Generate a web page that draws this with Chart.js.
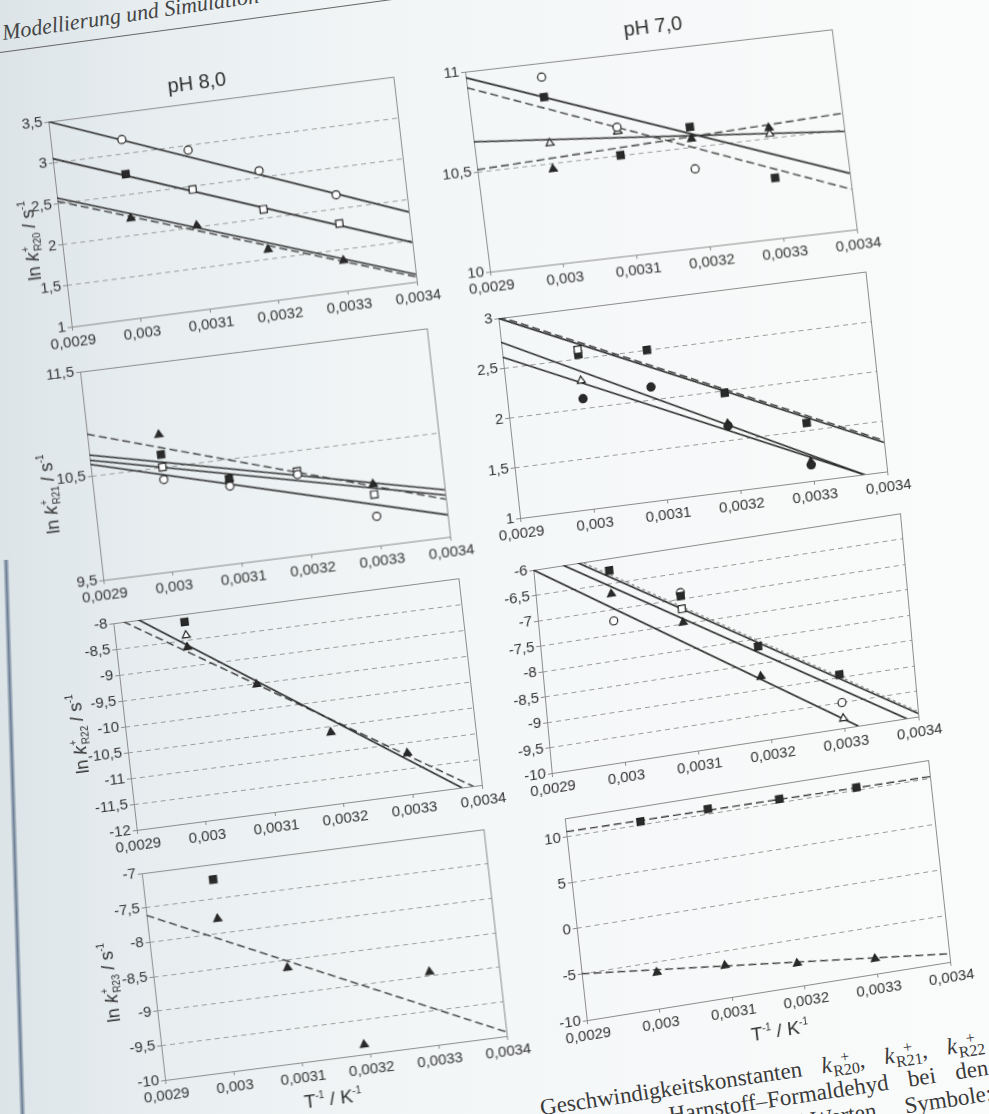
<!DOCTYPE html>
<html lang="de">
<head>
<meta charset="utf-8">
<title>ln k gegen 1/T – pH 8,0 und pH 7,0</title>
<script src="https://cdn.jsdelivr.net/npm/chart.js@4.4.0/dist/chart.umd.min.js"></script>
<style>
  html, body { margin: 0; padding: 0; }
  body {
    width: 989px; height: 1114px; overflow: hidden; position: relative;
    background: linear-gradient(90deg, #dce4e8 0%, #e8eef0 16%, #f3f6f7 42%, #fafbfb 100%);
    font-family: "Liberation Sans", Arial, sans-serif; color: #333;
  }
  .plot { position: absolute; left: 0; top: 0; transform-origin: 0 0; }
  .plot canvas { display: block; }
  #header {
    position: absolute; left: 3px; top: 22px; white-space: nowrap;
    font: italic 22px/22px "Liberation Serif", "DejaVu Serif", serif; color: #444;
    transform-origin: 0 17px; transform: rotate(-8.3deg);
  }
  #rule {
    position: absolute; left: 0; top: 52px; width: 460px; height: 1.4px; background: #666;
    transform-origin: 0 0; transform: rotate(-7.7deg);
  }
  #edge {
    position: absolute; left: 3px; top: 560px; width: 6px; height: 580px;
    background: linear-gradient(90deg, rgba(120,140,160,0.1), rgba(70,92,120,0.75), rgba(140,160,175,0.15));
    transform-origin: 0 0; transform: rotate(-1.7deg);
  }
  #caption {
    position: absolute; left: 335px; top: 1029px; width: 650px; text-align: right;
    font: 23px/26px "Liberation Serif", "DejaVu Serif", serif; color: #3a3a3a; word-spacing: 14px;
    transform-origin: 100% 18px; transform: rotate(-8.5deg); white-space: nowrap;
  }
  .ss { display: inline-flex; flex-direction: column; font-size: 16px; line-height: 13px;
        vertical-align: 8px; margin-left: 1px; text-align: center; word-spacing: 0; }
</style>
</head>
<body>
<div id="edge"></div>
<div id="header">Modellierung und Simulation</div>
<div id="rule"></div>
<div id="caption">
  <div>Geschwindigkeitskonstanten <i>k</i><span class="ss"><span>+</span><span>R20</span></span>, <i>k</i><span class="ss"><span>+</span><span>R21</span></span>, <i>k</i><span class="ss"><span>+</span><span>R22</span></span></div>
  <div>Harnstoff–Formaldehyd bei den</div>
  <div>pH-Werten.&emsp;Symbole:</div>
</div>
<script>
// x-Achse: T^-1 / K^-1, Messpunkte bei 60, 50, 40 und 30 °C
const xTicks = [0.0029, 0.003, 0.0031, 0.0032, 0.0033, 0.0034];
const tInv = [0.003002, 0.003095, 0.003193, 0.003299];
const fitX = [0.0029, 0.0034];

// pH 8,0 - ln k R20
const ph8R20Ticks = [1, 1.5, 2, 2.5, 3, 3.5];
const ph8R20Circle = [3.17, 2.94, 2.58, 2.17];
const ph8R20SquareFilled = [2.75, null, null, null];
const ph8R20Square = [null, 2.46, 2.11, 1.82];
const ph8R20TriangleFilled = [2.21, 2.02, 1.62, 1.37];
const ph8R20FitA = [3.5, 1.85];
const ph8R20FitB = [3.05, 1.48];
const ph8R20FitC = [2.57, 1.09];
const ph8R20FitD = [2.53, 1.06];

// pH 7,0 - ln k R20
const ph7R20Ticks = [10, 10.5, 11];
const ph7R20Circle = [10.93, 10.64, 10.39, null];
const ph7R20SquareFilled = [10.83, 10.50, 10.60, 10.30];
const ph7R20Triangle = [10.60, 10.62, null, 10.52];
const ph7R20TriangleFilled = [10.47, 10.62, 10.54, 10.55];
const ph7R20FitA = [10.97, 10.28];
const ph7R20FitB = [10.92, 10.20];
const ph7R20FitC = [10.65, 10.49];
const ph7R20FitD = [10.51, 10.58];

// pH 8,0 - ln k R21
const ph8R21Ticks = [9.5, 10.5, 11.5];
const ph8R21TriangleFilled = [10.81, 10.31, 10.28, 10.09];
const ph8R21SquareFilled = [10.62, 10.31, null, null];
const ph8R21Square = [10.50, null, 10.30, 9.99];
const ph8R21Circle = [10.38, 10.24, 10.27, 9.78];
const ph8R21FitA = [10.90, 9.86];
const ph8R21FitB = [10.70, 9.95];
const ph8R21FitC = [10.65, 9.90];
const ph8R21FitD = [10.61, 9.71];

// pH 7,0 - ln k R21
const ph7R21Ticks = [1, 1.5, 2, 2.5, 3];
const ph7R21Square = [2.59, null, null, null];
const ph7R21SquareFilled = [2.54, 2.50, 1.98, 1.58];
const ph7R21Triangle = [2.28, null, null, null];
const ph7R21CircleFilled = [2.10, 2.13, 1.65, 1.16];
const ph7R21TriangleFilled = [null, null, 1.67, 1.19];
const ph7R21FitA = [3.0, 1.29];
const ph7R21FitB = [3.02, 1.31];
const ph7R21FitC = [2.76, 0.88];
const ph7R21FitD = [2.61, 0.89];

// pH 8,0 - ln k R22
const ph8R22Ticks = [-12, -11.5, -11, -10.5, -10, -9.5, -9, -8.5, -8];
const ph8R22SquareFilled = [-8.15, null, null, null];
const ph8R22Triangle = [-8.41, null, null, null];
const ph8R22TriangleFilled = [-8.64, -9.52, -10.62, -11.21];
const ph8R22FitA = [-7.66, -12.27];
const ph8R22FitB = [-7.87, -12.11];

// pH 7,0 - ln k R22
const ph7R22Ticks = [-10, -9.5, -9, -8.5, -8, -7.5, -7, -6.5, -6];
const ph7R22SquareFilled = [-6.24, -6.95, -8.16, -8.95];
const ph7R22TriangleFilled = [-6.70, -7.47, -8.75, null];
const ph7R22Circle = [-7.23, -6.88, null, -9.50];
const ph7R22Square = [null, -7.20, null, null];
const ph7R22Triangle = [null, null, null, -9.81];
const ph7R22FitA = [-5.45, -9.94];
const ph7R22FitB = [-5.40, -9.90];
const ph7R22FitC = [-5.63, -10.15];
const ph7R22FitD = [-6.0, -10.79];

// pH 8,0 - ln k R23
const ph8R23Ticks = [-10, -9.5, -9, -8.5, -8, -7.5, -7];
const ph8R23SquareFilled = [-7.22, null, null, null];
const ph8R23TriangleFilled = [-7.79, -8.62, -9.86, -8.94];
const ph8R23Fit = [-7.61, -9.94];

// pH 7,0 - ln k R23
const ph7R23Ticks = [-10, -5, 0, 5, 10];
const ph7R23Max = 12;
const ph7R23SquareFilled = [10.35, 10.55, 10.4, 10.3];
const ph7R23TriangleFilled = [-6.08, -6.51, -7.53, -8.37];
const ph7R23FitA = [10.55, 10.2];
const ph7R23FitB = [-4.94, -9.11];

// Lage der schief eingescannten Diagramme: Ecke oben links, x-Achse, y-Achse (px)
const frames = {
  ph8R20: { origin: [48.3, 121.7], xVec: [345, -45], yVec: [23.4, 205] },
  ph7R20: { origin: [465, 71.7], xVec: [366.7, -42.4], yVec: [25, 200] },
  ph8R21: { origin: [80, 371.7], xVec: [346.7, -43.3], yVec: [23.3, 208.3] },
  ph7R21: { origin: [498.3, 318.3], xVec: [366.7, -46.6], yVec: [21.7, 200] },
  ph8R22: { origin: [113.3, 623.3], xVec: [345, -45], yVec: [23.4, 206.7] },
  ph7R22: { origin: [533.3, 570], xVec: [366.6, -56.6], yVec: [18.4, 203.3] },
  ph8R23: { origin: [141.7, 873.3], xVec: [341.7, -44], yVec: [23.3, 206.7] },
  ph7R23: { origin: [564.7, 818.4], xVec: [363.3, -58.3], yVec: [22, 201.6] }
};

const marks = {
  circle: ['circle', 4, '#ffffff'],
  circleFilled: ['circle', 4, '#2a2a2a'],
  square: ['rect', 5, '#ffffff'],
  squareFilled: ['rect', 5, '#2a2a2a'],
  triangle: ['triangle', 4.6, '#ffffff'],
  triangleFilled: ['triangle', 4.6, '#2a2a2a']
};
const lineStyles = {
  solid: { color: '#2b2b2b', dash: [], width: 1.6 },
  dashed: { color: '#3c3c3c', dash: [8, 4], width: 1.4 },
  dotted: { color: '#8a8a8a', dash: [3, 3], width: 1.2 }
};

const plots = [
  { key: 'ph8R20', ticks: ph8R20Ticks,
    series: [[ph8R20Circle, 'circle'], [ph8R20Square, 'square'], [ph8R20SquareFilled, 'squareFilled'], [ph8R20TriangleFilled, 'triangleFilled']],
    fits: [[ph8R20FitA, 'solid'], [ph8R20FitB, 'solid'], [ph8R20FitC, 'solid'], [ph8R20FitD, 'dashed']],
    decor: { title: 'pH 8,0', titleAt: [152, -20], ySub: 'R20', yTitleAt: [-31, 0.56] } },
  { key: 'ph7R20', ticks: ph7R20Ticks,
    series: [[ph7R20Circle, 'circle'], [ph7R20SquareFilled, 'squareFilled'], [ph7R20Triangle, 'triangle'], [ph7R20TriangleFilled, 'triangleFilled']],
    fits: [[ph7R20FitA, 'solid'], [ph7R20FitB, 'dashed'], [ph7R20FitC, 'solid'], [ph7R20FitD, 'dashed']],
    decor: { title: 'pH 7,0', titleAt: [192, -24] } },
  { key: 'ph8R21', ticks: ph8R21Ticks,
    series: [[ph8R21Circle, 'circle'], [ph8R21Square, 'square'], [ph8R21SquareFilled, 'squareFilled'], [ph8R21TriangleFilled, 'triangleFilled']],
    fits: [[ph8R21FitA, 'dashed'], [ph8R21FitB, 'solid'], [ph8R21FitC, 'solid'], [ph8R21FitD, 'solid']],
    decor: { ySub: 'R21', yTitleAt: [-44, 0.56] } },
  { key: 'ph7R21', ticks: ph7R21Ticks,
    series: [[ph7R21Square, 'square'], [ph7R21SquareFilled, 'squareFilled'], [ph7R21Triangle, 'triangle'], [ph7R21CircleFilled, 'circleFilled'], [ph7R21TriangleFilled, 'triangleFilled']],
    fits: [[ph7R21FitA, 'solid'], [ph7R21FitB, 'dashed'], [ph7R21FitC, 'solid'], [ph7R21FitD, 'solid']],
    decor: {} },
  { key: 'ph8R22', ticks: ph8R22Ticks,
    series: [[ph8R22SquareFilled, 'squareFilled'], [ph8R22Triangle, 'triangle'], [ph8R22TriangleFilled, 'triangleFilled']],
    fits: [[ph8R22FitA, 'solid'], [ph8R22FitB, 'dashed']],
    decor: { ySub: 'R22', yTitleAt: [-47, 0.505] } },
  { key: 'ph7R22', ticks: ph7R22Ticks,
    series: [[ph7R22SquareFilled, 'squareFilled'], [ph7R22TriangleFilled, 'triangleFilled'], [ph7R22Circle, 'circle'], [ph7R22Square, 'square'], [ph7R22Triangle, 'triangle']],
    fits: [[ph7R22FitA, 'solid'], [ph7R22FitB, 'dotted'], [ph7R22FitC, 'solid'], [ph7R22FitD, 'solid']],
    decor: {} },
  { key: 'ph8R23', ticks: ph8R23Ticks,
    series: [[ph8R23SquareFilled, 'squareFilled'], [ph8R23TriangleFilled, 'triangleFilled']],
    fits: [[ph8R23Fit, 'dashed']],
    decor: { ySub: 'R23', yTitleAt: [-44, 0.5], xTitleAt: [165, 39] } },
  { key: 'ph7R23', ticks: ph7R23Ticks, max: ph7R23Max,
    series: [[ph7R23SquareFilled, 'squareFilled'], [ph7R23TriangleFilled, 'triangleFilled']],
    fits: [[ph7R23FitA, 'dashed'], [ph7R23FitB, 'dashed']],
    decor: { xTitleAt: [191, 40] } }
];

const FONT = '"Liberation Sans", Arial, sans-serif';
const fmt = v => String(parseFloat(Number(v).toFixed(6))).replace('.', ',');

function font(size, italic) {
  return (italic ? 'italic ' : '') + size + 'px ' + FONT;
}
function partWidth(ctx, p) {
  if (p.stack) {
    ctx.font = font(p.size);
    return Math.max(ctx.measureText(p.stack[0]).width, ctx.measureText(p.stack[1]).width) + 1;
  }
  ctx.font = font(p.size, p.italic);
  return ctx.measureText(p.text).width;
}
function drawRich(ctx, parts, cx, base) {
  let x = cx - parts.reduce((w, p) => w + partWidth(ctx, p), 0) / 2;
  parts.forEach(p => {
    const w = partWidth(ctx, p);
    if (p.stack) {
      ctx.font = font(p.size);
      ctx.fillText(p.stack[0], x + 1, base - 9);
      ctx.fillText(p.stack[1], x + 1, base + 4);
    } else {
      ctx.font = font(p.size, p.italic);
      ctx.fillText(p.text, x, base + (p.dy || 0));
    }
    x += w;
  });
}

const decor = {
  id: 'decor',
  beforeDatasetsDraw(chart) {
    const { ctx, chartArea: a } = chart;
    ctx.save();
    ctx.strokeStyle = '#8c8c8c';
    ctx.lineWidth = 1;
    ctx.strokeRect(Math.round(a.left) + 0.5, Math.round(a.top) + 0.5,
      Math.round(a.right - a.left), Math.round(a.bottom - a.top));
    ctx.restore();
  },
  afterDraw(chart, args, o) {
    const { ctx, chartArea: a } = chart;
    ctx.save();
    ctx.fillStyle = '#2e2e2e';
    ctx.textAlign = 'left';
    ctx.textBaseline = 'alphabetic';
    if (o.title) {
      ctx.font = font(20);
      ctx.textAlign = 'center';
      ctx.fillText(o.title, a.left + o.titleAt[0], a.top + o.titleAt[1] + 7);
      ctx.textAlign = 'left';
    }
    if (o.ySub) {
      ctx.save();
      ctx.translate(a.left + o.yTitleAt[0], a.top + (a.bottom - a.top) * o.yTitleAt[1]);
      ctx.rotate(-Math.PI / 2);
      drawRich(ctx, [
        { text: 'ln ', size: 18 }, { text: 'k', size: 18, italic: true },
        { stack: ['+', o.ySub], size: 10 }, { text: ' / s', size: 18 }, { text: '-1', size: 10, dy: -8 }
      ], 0, 6);
      ctx.restore();
    }
    if (o.xTitleAt) {
      drawRich(ctx, [
        { text: 'T', size: 19 }, { text: '-1', size: 10, dy: -8 },
        { text: ' / K', size: 19 }, { text: '-1', size: 10, dy: -8 }
      ], a.left + o.xTitleAt[0], a.bottom + o.xTitleAt[1] + 7);
    }
    ctx.restore();
  }
};

function buildChart(p) {
  const f = frames[p.key];
  const pw = Math.round(Math.hypot(f.xVec[0], f.xVec[1]));
  const ph = Math.round(Math.hypot(f.yVec[0], f.yVec[1]));
  const W = pw + 130, H = ph + 110;

  const wrap = document.createElement('div');
  wrap.className = 'plot';
  const canvas = document.createElement('canvas');
  canvas.width = W; canvas.height = H;
  canvas.style.width = W + 'px'; canvas.style.height = H + 'px';
  wrap.appendChild(canvas);
  document.body.appendChild(wrap);

  const datasets = [];
  p.fits.forEach(([vals, style]) => {
    const s = lineStyles[style];
    datasets.push({
      data: fitX.map((x, i) => ({ x: x, y: vals[i] })),
      showLine: true, borderColor: s.color, borderWidth: s.width, borderDash: s.dash,
      pointRadius: 0, fill: false, order: 1
    });
  });
  p.series.forEach(([vals, mark]) => {
    const m = marks[mark];
    datasets.push({
      data: tInv.map((x, i) => ({ x: x, y: vals[i] })).filter(pt => pt.y !== null),
      showLine: false, pointStyle: m[0], pointRadius: m[1], backgroundColor: m[2],
      borderColor: '#222', borderWidth: 1.2, order: 0
    });
  });

  const tickFont = { family: FONT, size: 15 };
  const chart = new Chart(canvas, {
    type: 'scatter',
    data: { datasets },
    options: {
      responsive: false,
      animation: false,
      devicePixelRatio: 1,
      layout: { padding: { left: 50, right: 30, top: 40, bottom: 40 } },
      plugins: { legend: { display: false }, tooltip: { enabled: false }, decor: p.decor },
      scales: {
        x: {
          type: 'linear', min: xTicks[0], max: xTicks[xTicks.length - 1],
          afterBuildTicks: s => { s.ticks = xTicks.map(v => ({ value: v })); },
          afterFit: s => { s.height = 30; },
          ticks: { callback: v => fmt(v), color: '#333', font: tickFont, maxRotation: 0, minRotation: 0, autoSkip: false, padding: 3 },
          grid: { drawOnChartArea: false, drawTicks: true, tickLength: 4, color: '#8c8c8c' },
          border: { display: false }
        },
        y: {
          type: 'linear', min: p.ticks[0], max: p.max !== undefined ? p.max : p.ticks[p.ticks.length - 1],
          afterBuildTicks: s => { s.ticks = p.ticks.map(v => ({ value: v })); },
          afterFit: s => { s.width = 50; },
          ticks: { callback: v => fmt(v), color: '#333', font: tickFont, padding: 2 },
          grid: { color: '#9c9c9c', lineWidth: 1, tickLength: 4, tickColor: '#8c8c8c' },
          border: { display: false, dash: [5, 4] }
        }
      }
    },
    plugins: [decor]
  });

  // schräge Lage wie im Scan: Plotfläche auf die gemessene Ecke und Achsen abbilden
  const a = chart.chartArea;
  const w = a.right - a.left, h = a.bottom - a.top;
  const m = [f.xVec[0] / w, f.xVec[1] / w, f.yVec[0] / h, f.yVec[1] / h];
  const e = f.origin[0] - (m[0] * a.left + m[2] * a.top);
  const g = f.origin[1] - (m[1] * a.left + m[3] * a.top);
  wrap.style.transform = 'matrix(' + m.join(',') + ',' + e + ',' + g + ')';
}

plots.forEach(buildChart);
</script>
</body>
</html>
